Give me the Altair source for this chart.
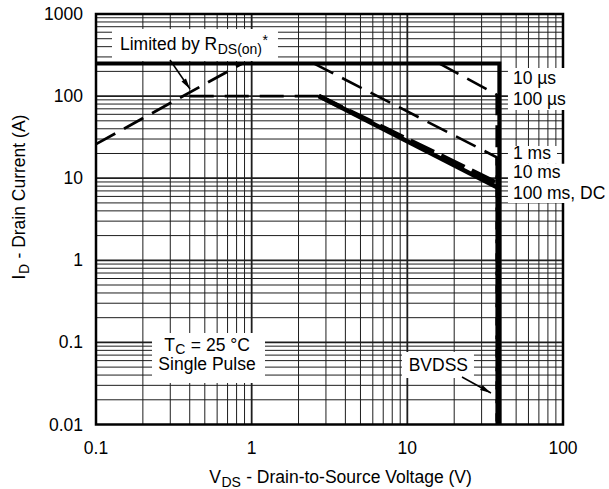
import altair as alt
import pandas as pd

FONT = "Liberation Sans"
FS = 17.5          # main text size
FS_SUB = 14        # subscript size
SPACE = 0.278 * FS # width of a space at FS
W, H = 467, 410.5  # plot area (px)
GRID = "#1e1e1e"

# axis extents, labelled ticks and their texts
v_domain = [0.1, 100]
i_domain = [0.01, 1000]
v_ticks = [0.1, 1, 10, 100]
v_tick_text = ["0.1", "1", "10", "100"]
i_ticks = [0.01, 0.1, 1, 10, 100, 1000]
i_tick_text = ["0.01", "0.1", "1", "10", "100", "1000"]

# Safe-operating-area boundaries: drain-source voltage (V) vs drain current (A)
lim_10us_v = [0.1, 39, 39]
lim_10us_i = [250, 250, 0.01]
rds_on_v = [0.1, 0.87]
rds_on_i = [26, 250]
pkg_v = [0.4, 2.7]
pkg_i = [100, 100]
lim_100us_v = [16, 37.5, 37.5]
lim_100us_i = [250, 104, 0.01]
lim_1ms_v = [2.5, 37.5, 37.5]
lim_1ms_i = [250, 18, 0.01]
lim_10ms_v = [2.7, 38.5]
lim_10ms_i = [100, 8.6]
lim_dc_v = [2.7, 38.5]
lim_dc_i = [100, 7.6]

# curve names written beside the right edge
curve_labels = ["10 µs", "100 µs", "1 ms", "10 ms", "100 ms, DC"]
curve_label_i = [161.6, 89.6, 19.7, 11.5, 6.5]
curve_label_v = 47.7

xs = alt.Scale(type="log", domain=v_domain, nice=False)
ys = alt.Scale(type="log", domain=i_domain, nice=False)
X = lambda f: alt.X(f, scale=xs, axis=None)
Y = lambda f: alt.Y(f, scale=ys, axis=None)

one = pd.DataFrame({"k": [0]})

# ---------------- grid ----------------
minor_v = [m * 10.0 ** e for e in (-1, 0, 1) for m in range(2, 10)]
minor_i = [m * 10.0 ** e for e in (-2, -1, 0, 1, 2) for m in range(2, 10)]
major_v = [1, 10]
major_i = [0.1, 1, 10, 100]


def vgrid(vals, width):
    return alt.Chart(pd.DataFrame({"V": vals})).mark_rule(
        color=GRID, strokeWidth=width).encode(x=X("V:Q"), y=alt.value(0), y2=alt.value(H))


def hgrid(vals, width):
    return alt.Chart(pd.DataFrame({"I": vals})).mark_rule(
        color=GRID, strokeWidth=width).encode(y=Y("I:Q"), x=alt.value(0), x2=alt.value(W))


grid = [vgrid(minor_v, 1), hgrid(minor_i, 1), vgrid(major_v, 1.8), hgrid(major_i, 1.8)]

frame = alt.Chart(one).mark_rect(filled=False, color="black", strokeWidth=2.5).encode(
    x=alt.value(0), x2=alt.value(W), y=alt.value(0), y2=alt.value(H))

# tick labels along the bottom and left edges
x_labels = alt.Chart(pd.DataFrame({"V": v_ticks, "t": v_tick_text, "I": i_domain[0]})).mark_text(
    font=FONT, fontSize=FS, color="black", align="center", baseline="alphabetic", dy=29).encode(
    x=X("V:Q"), y=Y("I:Q"), text="t:N")
y_labels = alt.Chart(pd.DataFrame({"I": i_ticks, "t": i_tick_text, "V": v_domain[0]})).mark_text(
    font=FONT, fontSize=FS, color="black", align="right", baseline="middle", dx=-13, dy=1).encode(
    x=X("V:Q"), y=Y("I:Q"), text="t:N")

# ---------------- white label boxes (volts / amps) ----------------
boxes = pd.DataFrame({
    "v0": [0.1267, 0.229, 9.24, 44.3, 44.3, 44.3],
    "v1": [1.476, 1.218, 26.8, 128.4, 91.5, 197.5],
    "i0": [656.6, 0.1302, 0.0764, 219.9, 24.7, 15.0],
    "i1": [267.6, 0.0320, 0.0368, 67.7, 15.0, 4.99],
})
box_layer = alt.Chart(boxes).mark_rect(color="white").encode(
    x=X("v0:Q"), x2="v1:Q", y=Y("i0:Q"), y2="i1:Q")


# ---------------- boundary curves ----------------
def boundary(v, i, width, dash=None):
    df = pd.DataFrame({"V": v, "I": i, "k": list(range(len(v)))})
    props = dict(color="black", strokeWidth=width, strokeJoin="miter", strokeCap="butt")
    if dash:
        props["strokeDash"] = dash
    return alt.Chart(df).mark_line(**props).encode(
        x=X("V:Q"), y=Y("I:Q"), order=alt.Order("k:Q"))


curves = [
    boundary(lim_100us_v, lim_100us_i, 2.6, [22, 10]),
    boundary(lim_1ms_v, lim_1ms_i, 2.6, [22, 10]),
    boundary(rds_on_v, rds_on_i, 2.8, [22, 10]),
    boundary(pkg_v, pkg_i, 2.8, [24, 11]),
    boundary(lim_dc_v, lim_dc_i, 4.5),
    boundary(lim_10ms_v, lim_10ms_i, 4.5, [26, 8]),
    boundary(lim_10us_v, lim_10us_i, 4),
]

# ---------------- arrows ----------------
arrows = pd.DataFrame({
    "v0": [0.2988, 22.44], "i0": [275.3, 0.0379],
    "v1": [0.4017, 34.46], "i1": [122.0, 0.0242],
})
shafts = alt.Chart(arrows).mark_rule(color="black", strokeWidth=1.5).encode(
    x=X("v0:Q"), x2="v1:Q", y=Y("i0:Q"), y2="i1:Q")
HEAD = "M0,0L0.55,2.2L-0.55,2.2Z"


def head(k, angle):
    return alt.Chart(arrows.iloc[[k]]).mark_point(
        shape=HEAD, filled=True, size=100, angle=angle, color="black", opacity=1,
        strokeWidth=0).encode(x=X("v1:Q"), y=Y("i1:Q"))


heads = [head(0, 145.4), head(1, 118.9)]


# ---------------- text ----------------
def at(v, i, text, dx=0, dy=0, size=FS, align="left", baseline="alphabetic"):
    df = pd.DataFrame({"V": [v], "I": [i]})
    return alt.Chart(df).mark_text(
        text=text, dx=dx, dy=dy, fontSize=size, font=FONT, color="black",
        align=align, baseline=baseline).encode(x=X("V:Q"), y=Y("I:Q"))


def px(x, y, text, size=FS, angle=None, align="left"):
    props = dict(text=text, fontSize=size, font=FONT, color="black",
                 align=align, baseline="alphabetic")
    if angle is not None:
        props["angle"] = angle
    return alt.Chart(one).mark_text(**props).encode(x=alt.value(x), y=alt.value(y))


texts = [
    # Limited by R_DS(on)*
    at(0.1426, 364.3, "Limited by R"),
    at(0.1426, 364.3, "DS(on)", dx=97.7, dy=4, size=FS_SUB),
    at(0.1426, 364.3, "*", dx=142.5, dy=-5, size=FS_SUB),
    # T_C = 25 °C / Single Pulse
    at(0.5166, 0.0775, "T", dx=-42.85),
    at(0.5166, 0.0775, "C", dx=-31.65, dy=3, size=FS_SUB),
    at(0.5166, 0.0775, "= 25 °C", dx=-21.05 + SPACE),
    at(0.5166, 0.0775, "Single Pulse", dy=19, align="center"),
    # breakdown voltage
    at(15.81, 0.0443, "BVDSS", align="center"),
    # x title
    px(113.2, 469, "V"),
    px(125.4, 472.5, "DS", size=FS_SUB),
    px(145.3 + SPACE, 469, "- Drain-to-Source Voltage (V)"),
    # y title
    px(-71, 265.4, "I", angle=270),
    px(-67.5, 260.0, "D", size=FS_SUB, angle=270),
    px(-71, 249.4 - SPACE, "- Drain Current (A)", angle=270),
]
for lab, cur in zip(curve_labels, curve_label_i):
    texts.append(at(curve_label_v, cur, lab, baseline="middle"))

chart = alt.layer(
    *grid, frame, box_layer, *curves, shafts, *heads, x_labels, y_labels, *texts,
).properties(
    width=W, height=H,
    autosize=alt.AutoSizeParams(type="none"),
    padding={"left": 96, "top": 14, "right": 46, "bottom": 64.5},
    background="white",
).configure_view(stroke=None)

chart.save("out.html", embed_options={"renderer": "svg", "actions": False})
